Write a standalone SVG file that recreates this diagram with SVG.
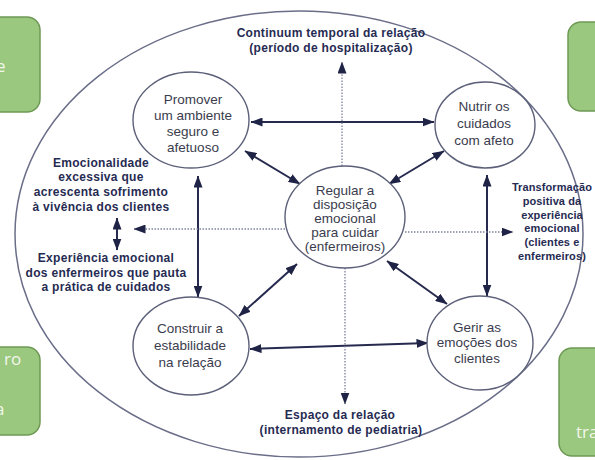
<svg xmlns="http://www.w3.org/2000/svg" width="595" height="460" viewBox="0 0 595 460">
<defs>
<style>
.box{fill:#9bc87f;stroke:#6e9955;stroke-width:1.5}
.boxt{font-family:"Open Sans","Liberation Sans",sans-serif;font-size:17px;fill:#f2f7ec}
.node{fill:#ffffff;stroke:#5c6079;stroke-width:1.4}
.nt{font-family:"Liberation Sans",Arial,sans-serif;font-size:13.5px;fill:#3a3c4e;text-anchor:middle}
.lb{font-family:"Liberation Sans",Arial,sans-serif;font-size:12px;font-weight:bold;fill:#262b52;text-anchor:middle;letter-spacing:0.3px}
.lbs{font-family:"Liberation Sans",Arial,sans-serif;font-size:11px;font-weight:bold;fill:#262b52;text-anchor:middle;letter-spacing:0.1px}
.solid{fill:none;stroke:#262a4e;stroke-width:2;marker-start:url(#ah);marker-end:url(#ah)}
.dot{fill:none;stroke:#7d829c;stroke-width:1.3;stroke-dasharray:1.5 1.5;marker-end:url(#ah)}
</style>
<marker id="ah" viewBox="0 0 12 9" refX="11.5" refY="4.5" markerWidth="12" markerHeight="9" markerUnits="userSpaceOnUse" orient="auto-start-reverse">
<path d="M0,0 L12,4.5 L0,9 z" fill="#1f2346"/>
</marker>
</defs>
<rect width="595" height="460" fill="#ffffff"/>

<g id="box-top-left"><rect class="box" x="-20" y="17" width="60" height="95" rx="13"/><text class="boxt" x="-4" y="72">e</text></g>
<g id="box-top-right"><rect class="box" x="568" y="22" width="60" height="89" rx="13"/></g>
<g id="box-bottom-left"><rect class="box" x="-20" y="347" width="60" height="88" rx="13"/><text class="boxt" x="4" y="365">ro</text><text class="boxt" x="-5" y="415">a</text></g>
<g id="box-bottom-right"><rect class="box" x="559" y="348" width="60" height="108" rx="13"/><text class="boxt" x="576" y="438">tra</text></g>

<g id="frame"><ellipse cx="299" cy="234" rx="284" ry="223" fill="none" stroke="#6a6e88" stroke-width="1.5"/></g>

<g id="connectors">
<line class="solid" x1="251" y1="122" x2="434" y2="122"/>
<line class="solid" x1="245" y1="151" x2="300" y2="184"/>
<line class="solid" x1="389" y1="184" x2="444" y2="151"/>
<line class="solid" x1="198" y1="176" x2="198" y2="297"/>
<line class="solid" x1="487" y1="175" x2="487" y2="296"/>
<line class="solid" x1="297" y1="264" x2="239" y2="316"/>
<line class="solid" x1="387" y1="261" x2="447" y2="304"/>
<line class="solid" x1="250" y1="349" x2="428" y2="343"/>
<line class="solid" x1="117" y1="218" x2="117" y2="250"/>
<line class="dot" x1="342" y1="166" x2="342" y2="62"/>
<line class="dot" x1="345" y1="268" x2="345" y2="404"/>
<line class="dot" x1="285" y1="229" x2="134" y2="229"/>
<line class="dot" x1="405" y1="232" x2="513" y2="232"/>
</g>

<g id="node-promover"><ellipse class="node" cx="191" cy="120" rx="58" ry="48"/>
<text class="nt" x="193" y="104">Promover</text><text class="nt" x="193" y="120">um ambiente</text><text class="nt" x="193" y="136">seguro e</text><text class="nt" x="193" y="152">afetuoso</text></g>
<g id="node-nutrir"><ellipse class="node" cx="485" cy="125" rx="50" ry="43"/>
<text class="nt" x="484" y="111">Nutrir os</text><text class="nt" x="484" y="128">cuidados</text><text class="nt" x="484" y="145">com afeto</text></g>
<g id="node-regular"><ellipse class="node" cx="345" cy="217" rx="60" ry="51"/>
<text class="nt" x="345" y="195">Regular a</text><text class="nt" x="345" y="209">disposição</text><text class="nt" x="345" y="223">emocional</text><text class="nt" x="345" y="237">para cuidar</text><text class="nt" x="345" y="251">(enfermeiros)</text></g>
<g id="node-construir"><ellipse class="node" cx="191" cy="346" rx="58" ry="49"/>
<text class="nt" x="190" y="333">Construir a</text><text class="nt" x="190" y="350">estabilidade</text><text class="nt" x="190" y="367">na relação</text></g>
<g id="node-gerir"><ellipse class="node" cx="480" cy="343" rx="53" ry="47"/>
<text class="nt" x="477" y="332">Gerir as</text><text class="nt" x="477" y="347">emoções dos</text><text class="nt" x="477" y="363">clientes</text></g>

<g id="label-continuum"><text class="lb" x="331" y="37">Continuum temporal da relação</text><text class="lb" x="331" y="52">(período de hospitalização)</text></g>
<g id="label-emocionalidade"><text class="lb" x="101" y="167">Emocionalidade</text><text class="lb" x="101" y="181">excessiva que</text><text class="lb" x="101" y="196">acrescenta sofrimento</text><text class="lb" x="101" y="211">à vivência dos clientes</text></g>
<g id="label-experiencia"><text class="lb" x="106" y="262">Experiência emocional</text><text class="lb" x="106" y="277">dos enfermeiros que pauta</text><text class="lb" x="106" y="291">a prática de cuidados</text></g>
<g id="label-transformacao"><text class="lbs" x="552" y="191">Transformação</text><text class="lbs" x="552" y="205">positiva da</text><text class="lbs" x="552" y="219">experiência</text><text class="lbs" x="552" y="232">emocional</text><text class="lbs" x="552" y="246">(clientes e</text><text class="lbs" x="552" y="260">enfermeiros)</text></g>
<g id="label-espaco"><text class="lb" x="340" y="419">Espaço da relação</text><text class="lb" x="341" y="434">(internamento de pediatria)</text></g>
</svg>
